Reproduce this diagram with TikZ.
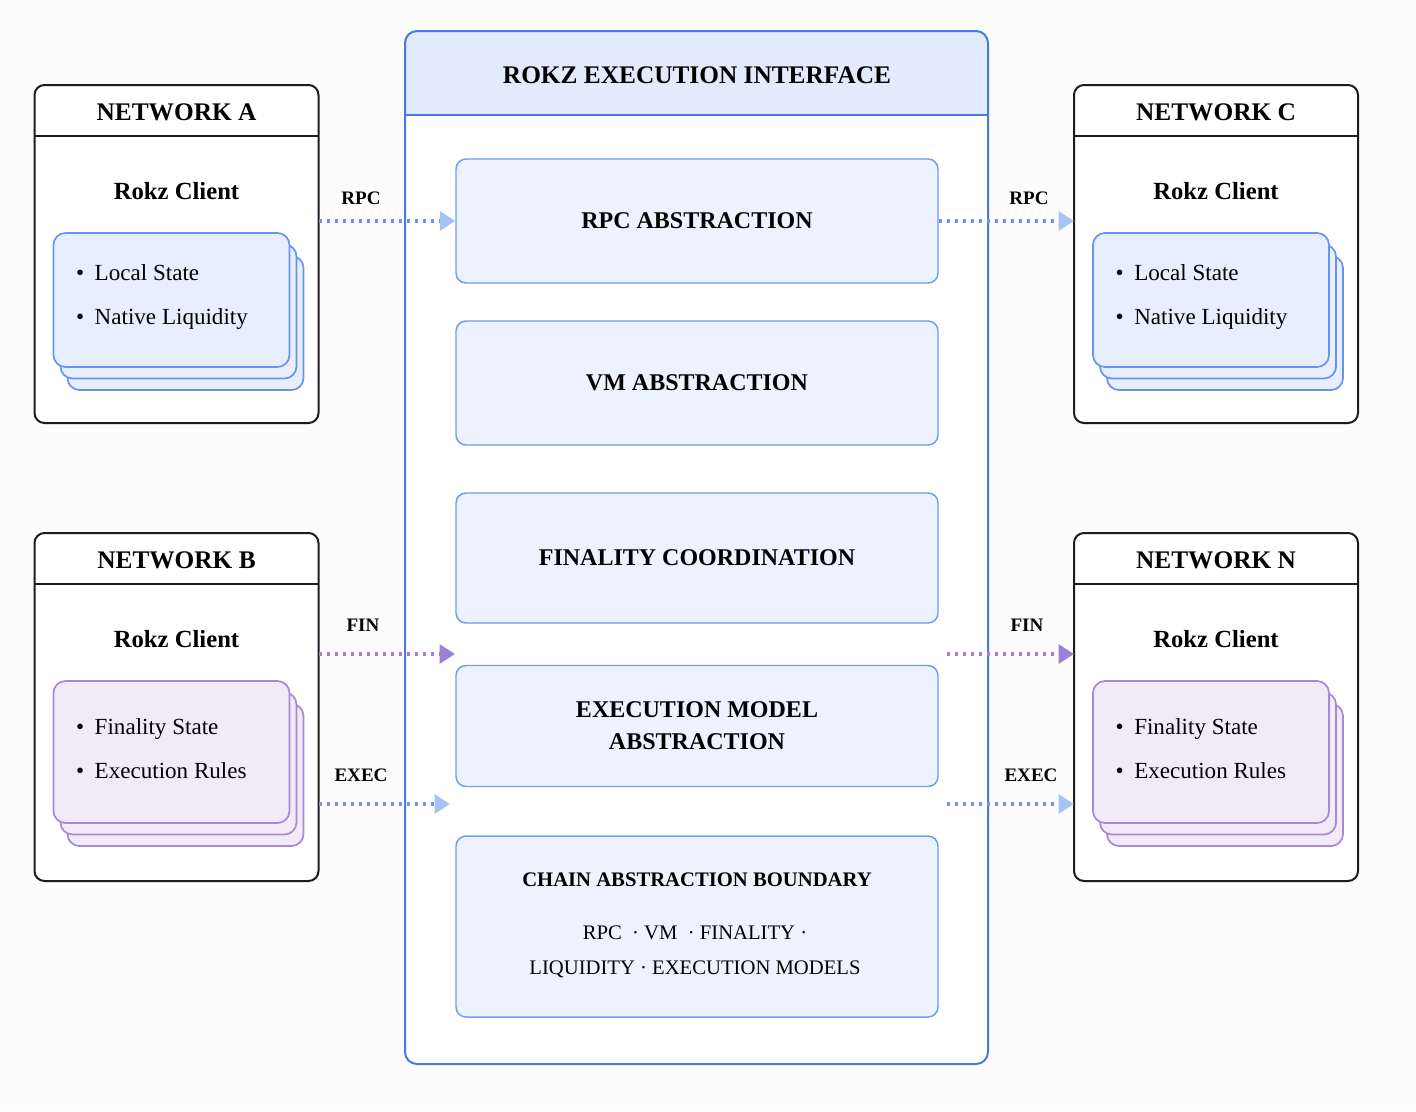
\documentclass[tikz,border=0pt]{standalone}
\usepackage{fontspec}
\setmainfont{Liberation Serif}
\usetikzlibrary{arrows.meta}
\definecolor{pagebg}{RGB}{252,252,253}
\definecolor{netline}{RGB}{28,28,30}
\definecolor{coreblue}{RGB}{72,122,228}
\definecolor{corehead}{RGB}{226,235,252}
\definecolor{absline}{RGB}{112,156,240}
\definecolor{absfill}{RGB}{237,243,254}
\definecolor{cardblue}{RGB}{104,148,240}
\definecolor{cardbluefill}{RGB}{231,239,254}
\definecolor{cardpurple}{RGB}{168,138,212}
\definecolor{cardpurplefill}{RGB}{241,235,248}
\definecolor{dotblue}{RGB}{108,148,240}
\definecolor{tipblue}{RGB}{168,194,248}
\definecolor{dotpurple}{RGB}{160,128,214}
\definecolor{tippurple}{RGB}{156,130,214}
\newcommand{\fsz}[2]{\fontsize{#1}{#2}\selectfont}
\tikzset{
  netbox/.style={draw=netline,line width=1.5pt,rounded corners=7.5pt,fill=white,
    minimum width=213pt,outer sep=0pt},
  nettitle/.style={font={\bfseries\fsz{19}{22}}},
  clientlbl/.style={font={\bfseries\fsz{18.5}{22}}},
  cardblue/.style={draw=cardblue,fill=cardbluefill,line width=1.3pt,rounded corners=9pt,
    minimum width=177pt},
  cardpurple/.style={draw=cardpurple,fill=cardpurplefill,line width=1.3pt,rounded corners=9pt,
    minimum width=177pt},
  bullets/.style={anchor=west,align=left,font={\fsz{17.3}{33}}},
  absbox/.style={draw=absline,fill=absfill,line width=1.1pt,rounded corners=7.5pt,
    minimum width=361.5pt,align=center,font={\bfseries\fsz{18}{24}}},
  linklbl/.style={font={\bfseries\fsz{14.3}{17}}},
  dotlinkblue/.style={dotblue,line width=2.6pt,dash pattern=on 2.4pt off 3.6pt,
    -{Triangle[length=11.5pt,width=14pt,color=tipblue]}},
  dotlinkpurple/.style={dotpurple,line width=2.6pt,dash pattern=on 2.4pt off 3.6pt,
    -{Triangle[length=11.5pt,width=14pt,color=tippurple]}}
}
\begin{document}
\begin{tikzpicture}[x=0.75pt,y=-0.75pt]
\fill[pagebg] (0,0) rectangle (1416,1111);
\useasboundingbox (0,0) rectangle (1416,1111);

% networks on both sides
\foreach \nm/\cx/\ty/\hh/\ch/\kind/\itema/\itemb in {
  A/176.5/85/338/134/blue/Local State/Native Liquidity,
  C/1216/85/338/134/blue/Local State/Native Liquidity,
  B/176.5/533/348/142/purple/Finality State/Execution Rules,
  N/1216/533/348/142/purple/Finality State/Execution Rules}{
  \node[netbox,minimum height=\hh*0.75pt] (net\nm) at (\cx,\ty+\hh/2) {};
  \draw[netline,line width=1.5pt] ([yshift=-38.25pt]net\nm.north west) -- ([yshift=-38.25pt]net\nm.north east);
  \node[nettitle] (net\nm-title) at (\cx,\ty+27) {NETWORK \nm};
  \node[clientlbl] (net\nm-client) at (\cx,\ty+106) {Rokz Client};
  \foreach \dx/\dy in {14/23,7/11.5}
    \draw[card\kind] (\cx-123+\dx,\ty+148+\dy) rectangle +(236,\ch);
  \node[card\kind,minimum height=\ch*0.75pt] (card\nm) at (\cx-5,\ty+148+\ch/2) {};
  \node[bullets] (card\nm-text) at ([xshift=14pt,yshift=2.5pt]card\nm.west)
    {\textbullet\hspace{8pt}\itema\\\textbullet\hspace{8pt}\itemb};
}

% execution interface
\node[fill=white,minimum width=437.25pt,minimum height=774.75pt,outer sep=0pt] (core) at (696.5,547.5) {};
\fill[corehead] ([yshift=-63pt]core.north west) [rounded corners=9pt] -- (core.north west)
  -- (core.north east) [sharp corners] -- ([yshift=-63pt]core.north east) -- cycle;
\draw[coreblue,line width=1.5pt] ([yshift=-63pt]core.north west) -- ([yshift=-63pt]core.north east);
\draw[coreblue,line width=1.5pt,rounded corners=9pt] (core.north west) rectangle (core.south east);
\node[font={\bfseries\fsz{19}{22}}] (coreTitle) at (697,75) {ROKZ EXECUTION INTERFACE};

\node[absbox,minimum height=93pt] (rpcAbs) at (697,221) {RPC ABSTRACTION};
\node[absbox,minimum height=93pt] (vmAbs) at (697,383) {VM ABSTRACTION};
\node[absbox,minimum height=97.5pt] (finCoord) at (697,558) {FINALITY COORDINATION};
\node[absbox,minimum height=90.75pt] (execAbs) at (697,726) {EXECUTION MODEL\\ABSTRACTION};
\node[absbox,minimum height=135.75pt] (chainBound) at (697,926.5) {};
\node[font={\bfseries\fsz{15.5}{18}}] (chainTitle) at (697,880) {CHAIN ABSTRACTION BOUNDARY};
\node[align=center,font={\fsz{15.5}{26}}] (chainList) at (695,952)
  {RPC \ · VM \ · FINALITY ·\\LIQUIDITY · EXECUTION MODELS};

% links
\coordinate (finIn) at (455,654);
\coordinate (finOut) at (947,654);
\coordinate (execIn) at (450,804);
\coordinate (execOut) at (947,804);
\draw[dotlinkblue] (netA.east |- rpcAbs.west) -- (rpcAbs.west);
\draw[dotlinkblue] (rpcAbs.east) -- (netC.west |- rpcAbs.east);
\draw[dotlinkpurple] (netB.east |- finIn) -- (finIn);
\draw[dotlinkpurple] (finOut) -- (netN.west |- finOut);
\draw[dotlinkblue] (netB.east |- execIn) -- (execIn);
\draw[dotlinkblue] (execOut) -- (netN.west |- execOut);
\node[linklbl] (rpcLblA) at (361,198) {RPC};
\node[linklbl] (rpcLblC) at (1029,198) {RPC};
\node[linklbl] (finLblB) at (363,625) {FIN};
\node[linklbl] (finLblN) at (1027,625) {FIN};
\node[linklbl] (execLblB) at (361,775) {EXEC};
\node[linklbl] (execLblN) at (1031,775) {EXEC};
\end{tikzpicture}
\end{document}
